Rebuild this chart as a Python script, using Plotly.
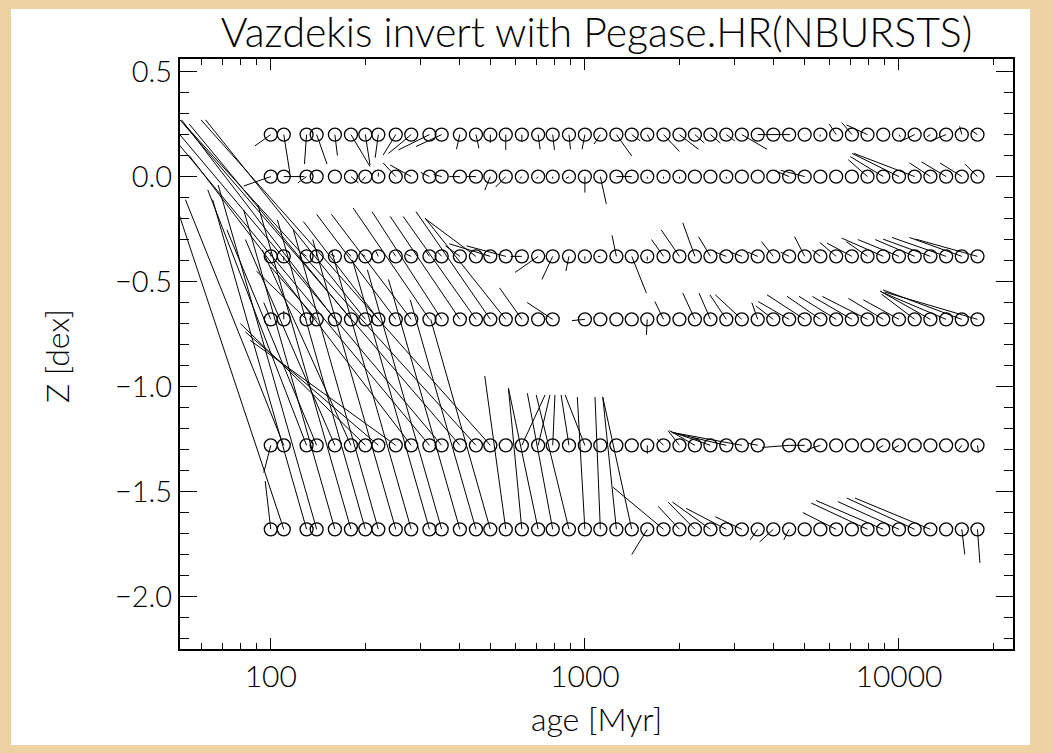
import plotly.graph_objects as go

# model grid (ages in Gyr, metallicities in dex)
model_age_gyr = [0.10, 0.11, 0.13, 0.14, 0.16, 0.18, 0.20, 0.22, 0.25, 0.28,
                 0.32, 0.35, 0.40, 0.45, 0.50, 0.56, 0.63, 0.71, 0.79, 0.89,
                 1.00, 1.12, 1.26, 1.41, 1.58, 1.78, 2.00, 2.24, 2.51, 2.82,
                 3.16, 3.55, 3.98, 4.47, 5.01, 5.62, 6.31, 7.08, 7.94, 8.91,
                 10.00, 11.22, 12.59, 14.13, 15.85, 17.78]
row_z = [0.20, 0.00, -0.38, -0.68, -1.28, -1.68]

# recovered (inverted) age [Gyr] and Z for each model, per metallicity row
fit_age_p020 = [0.089, 0.115, 0.128, 0.151, 0.163, 0.207, 0.207, 0.215, 0.228, 0.237,
                0.255, 0.29, 0.39, 0.46, 0.50, 0.56, 0.63, 0.72, 0.80, 0.90,
                0.98, 1.07, 1.41, 1.50, 1.62, 2.00, 2.30, 2.40, 2.70, 3.00,
                3.80, 4.00, 4.47, 4.50, 5.00, 5.60, 6.00, 6.58, 6.80, 8.90,
                10.1, 10.1, 12.3, 12.6, 15.6, 17.0]
fit_z_p020 = [0.146, 0.018, 0.06, 0.06, 0.10, 0.048, 0.055, 0.09, 0.103, 0.11,
              0.127, 0.143, 0.13, 0.135, 0.16, 0.127, 0.167, 0.13, 0.127, 0.13,
              0.13, 0.155, 0.098, 0.17, 0.17, 0.12, 0.13, 0.16, 0.16, 0.17,
              0.13, 0.20, 0.20, 0.20, 0.20, 0.19, 0.25, 0.257, 0.246, 0.20,
              0.19, 0.167, 0.19, 0.17, 0.24, 0.22]

fit_age_p000 = [0.082, 0.128, 0.122, 0.14, 0.16, 0.19, 0.195, 0.22, 0.228, 0.24,
                0.30, 0.33, 0.37, 0.42, 0.48, 0.52, 0.62, 0.70, 0.79, 0.87,
                1.00, 1.17, 1.41, 1.41, 1.58, 1.78, 2.00, 2.24, 2.51, 2.82,
                3.16, 3.55, 3.98, 4.00, 4.20, 5.62, 6.31, 7.08, 6.90, 7.00,
                7.10, 7.20, 10.8, 11.8, 13.5, 16.2]
fit_z_p000 = [-0.045, 0.0, -0.03, 0.0, 0.0, -0.03, -0.02, 0.02, 0.065, 0.055,
              0.02, 0.01, 0.0, 0.0, -0.065, -0.05, -0.01, -0.01, -0.01, -0.01,
              -0.076, -0.13, 0.0, 0.0, -0.01, -0.01, -0.01, 0.0, 0.0, -0.01,
              0.0, 0.0, 0.0, 0.03, 0.03, 0.0, 0.0, 0.0, 0.08, 0.095,
              0.11, 0.11, 0.065, 0.07, 0.065, 0.06]

fit_age_m038 = [0.10, 0.11, 0.125, 0.14, 0.155, 0.175, 0.195, 0.215, 0.245, 0.27,
                0.31, 0.34, 0.36, 0.31, 0.37, 0.42, 0.58, 0.60, 0.73, 0.87,
                1.00, 1.10, 1.22, 1.57, 1.58, 1.63, 1.75, 2.05, 2.30, 2.60,
                2.90, 3.30, 3.65, 4.20, 4.65, 5.30, 5.60, 5.90, 6.80, 6.57,
                7.40, 8.40, 8.90, 9.50, 10.8, 11.3]
fit_z_m038 = [-0.36, -0.40, -0.36, -0.35, -0.37, -0.36, -0.37, -0.35, -0.36, -0.37,
              -0.35, -0.36, -0.33, -0.20, -0.32, -0.33, -0.38, -0.456, -0.49, -0.45,
              -0.40, -0.38, -0.28, -0.555, -0.40, -0.30, -0.254, -0.22, -0.286, -0.36,
              -0.36, -0.36, -0.31, -0.36, -0.286, -0.35, -0.314, -0.317, -0.31, -0.293,
              -0.30, -0.30, -0.298, -0.29, -0.29, -0.298]

fit_age_m068 = [0.095, 0.11, 0.09, 0.10, 0.052, 0.055, 0.062, 0.127, 0.14, 0.156,
                0.183, 0.21, 0.24, 0.264, 0.29, 0.31, 0.535, 0.71, 0.655, None,
                0.91, 1.12, 1.26, 1.41, 1.57, 1.67, 2.00, 2.05, 2.31, 2.50,
                2.60, 3.40, 3.50, 3.56, 3.80, 4.40, 4.80, 5.30, 5.70, 6.90,
                7.70, 8.80, 8.70, 8.80, 8.90, 9.00]
fit_z_m068 = [-0.60, -0.64, -0.45, -0.43, 0.27, 0.25, 0.27, -0.214, -0.18, -0.18,
              -0.15, -0.167, -0.19, -0.19, -0.167, -0.198, -0.53, -0.68, -0.60, None,
              -0.686, -0.68, -0.68, -0.68, -0.754, -0.595, -0.68, -0.555, -0.555, -0.563,
              -0.563, -0.60, -0.616, -0.595, -0.563, -0.57, -0.57, -0.571, -0.571, -0.58,
              -0.587, -0.56, -0.545, -0.55, -0.54, -0.55]

fit_age_m128 = [0.095, 0.0535, 0.063, 0.0725, 0.083, 0.094, 0.080, 0.083, 0.086, 0.055,
                0.048, 0.050, 0.0514, 0.053, 0.060, 0.56, 0.747, 0.774, 0.803, 0.84,
                0.865, 1.12, 1.26, 1.41, 1.58, 1.70, 1.84, 1.86, 1.88, 1.90,
                1.92, 3.30, None, 3.67, 4.47, 5.10, 6.31, 7.08, 7.94, 8.50,
                9.50, 11.22, 12.59, 14.13, 15.5, 17.9]
fit_z_m128 = [-1.41, -0.11, -0.063, -0.254, -0.30, -0.35, -0.70, -0.74, -0.78, 0.10,
              0.20, 0.22, 0.27, 0.25, 0.27, -1.28, -1.04, -1.04, -1.04, -1.04,
              -1.04, -1.28, -1.28, -1.28, -1.32, -1.25, -1.21, -1.21, -1.215, -1.22,
              -1.22, -1.27, None, -1.29, -1.28, -1.30, -1.28, -1.28, -1.28, -1.30,
              -1.30, -1.28, -1.28, -1.28, -1.30, -1.316]

fit_age_m168 = [0.096, 0.048, 0.0653, 0.068, 0.082, 0.091, 0.105, 0.118, 0.136, 0.156,
                0.182, 0.203, 0.237, 0.278, 0.323, 0.48, 0.571, 0.571, 0.656, 0.70,
                0.946, 1.077, 1.14, 1.14, 1.41, 1.23, 1.71, 1.84, 1.90, 2.10,
                2.60, 3.36, 3.60, 4.30, 5.01, 5.62, 4.94, 7.08, 5.26, 5.45,
                6.39, 6.82, 7.24, 14.13, 16.2, 18.1]
fit_z_m168 = [-1.45, -0.06, -0.11, -0.04, -0.159, -0.135, -0.206, -0.254, -0.30, -0.35,
              -0.397, -0.444, -0.49, -0.587, -0.68, -0.95, -1.008, -1.008, -1.032, -1.04,
              -1.05, -1.05, -1.05, -1.05, -1.80, -1.48, -1.57, -1.55, -1.55, -1.58,
              -1.62, -1.73, -1.74, -1.73, -1.68, -1.68, -1.60, -1.68, -1.555, -1.543,
              -1.548, -1.531, -1.531, -1.68, -1.80, -1.84]

rows = [
    (row_z[0], fit_age_p020, fit_z_p020),
    (row_z[1], fit_age_p000, fit_z_p000),
    (row_z[2], fit_age_m038, fit_z_m038),
    (row_z[3], fit_age_m068, fit_z_m068),
    (row_z[4], fit_age_m128, fit_z_m128),
    (row_z[5], fit_age_m168, fit_z_m168),
]

line_x, line_y, circ_x, circ_y = [], [], [], []
for z, fa, fz in rows:
    for a, a2, z2 in zip(model_age_gyr, fa, fz):
        if a2 is None:
            continue
        circ_x.append(a * 1000.0)
        circ_y.append(z)
        line_x += [a * 1000.0, a2 * 1000.0, None]
        line_y += [z, z2, None]

FONT = "Lato, DejaVu Sans, sans-serif"
FW = 300

fig = go.Figure()
fig.add_trace(go.Scatter(x=line_x, y=line_y, mode="lines",
                         line=dict(color="black", width=1), hoverinfo="skip"))
fig.add_trace(go.Scatter(x=circ_x, y=circ_y, mode="markers",
                         marker=dict(symbol="circle-open", size=13, color="black",
                                     line=dict(width=1.3, color="black")),
                         hoverinfo="skip"))

fig.update_layout(
    width=1053, height=753,
    margin=dict(l=180, r=40, t=59, b=104),
    paper_bgcolor="#EDD3A4",
    plot_bgcolor="white",
    showlegend=False,
    font=dict(family=FONT, color="black", size=29, weight=FW),
    title=dict(text="Vazdekis invert with Pegase.HR(NBURSTS)", x=0.5, xref="paper",
               xanchor="center",
               y=1 - 33 / 753, yref="container", yanchor="middle",
               font=dict(family=FONT, size=41, color="black", weight=FW)),
    shapes=[dict(type="rect", xref="paper", yref="paper",
                 x0=(11 - 180) / 833, x1=(1030 - 180) / 833,
                 y0=(649 - 745) / 590, y1=(649 - 9) / 590,
                 fillcolor="white", line=dict(width=0), layer="below")],
    annotations=[
        dict(text="age [Myr]", xref="paper", yref="paper", x=0.5, y=(649 - 718) / 590,
             showarrow=False, xanchor="center", yanchor="middle",
             font=dict(family=FONT, size=32, weight=FW)),
        dict(text="Z [dex]", xref="paper", yref="paper", x=(57 - 180) / 833, y=(649 - 356) / 590,
             showarrow=False, textangle=-90, xanchor="center", yanchor="middle",
             font=dict(family=FONT, size=32, weight=FW)),
    ],
)

fig.update_xaxes(type="log", range=[1.711, 4.363], showgrid=False, zeroline=False,
                 showline=True, linecolor="black", linewidth=2, mirror="ticks",
                 ticks="inside", ticklen=11, tickwidth=1.2, tickcolor="black",
                 tickvals=[100, 1000, 10000], ticktext=["100", "1000", "10000"],
                 tickfont=dict(family=FONT, size=30, weight=FW),
                 minor=dict(ticks="inside", ticklen=6, tickwidth=1.2, tickcolor="black",
                            tickvals=[60, 70, 80, 90, 200, 300, 400, 500, 600, 700, 800, 900,
                                      2000, 3000, 4000, 5000, 6000, 7000, 8000, 9000, 20000],
                            showgrid=False))
fig.update_yaxes(range=[-2.25, 0.56], showgrid=False, zeroline=False,
                 showline=True, linecolor="black", linewidth=2, mirror="ticks",
                 ticks="inside", ticklen=17, tickwidth=1.2, tickcolor="black",
                 tickvals=[-2.0, -1.5, -1.0, -0.5, 0.0, 0.5], tickformat=".1f",
                 tickfont=dict(family=FONT, size=29, weight=FW),
                 minor=dict(ticks="inside", ticklen=9, tickwidth=1.2, tickcolor="black",
                            dtick=0.1, showgrid=False))

fig.write_html("out.html")
